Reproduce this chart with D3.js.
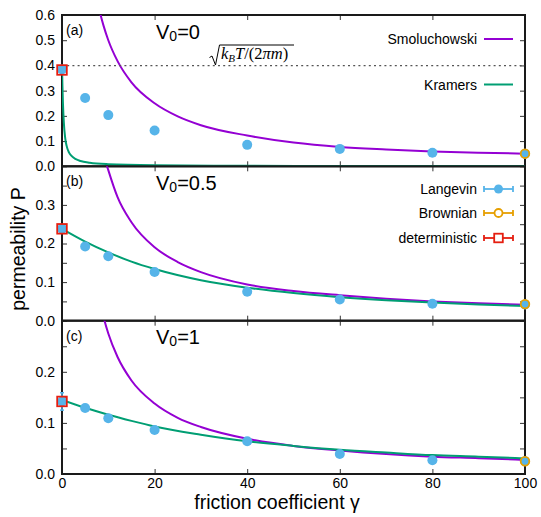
<!DOCTYPE html>
<html>
<head>
<meta charset="utf-8">
<script src="https://cdn.jsdelivr.net/npm/d3@7"></script>
<style>
  html, body { margin: 0; padding: 0; background: #fff; }
  svg { display: block; font-family: "Liberation Sans", Arial, Helvetica, sans-serif; }
</style>
</head>
<body>
<svg id="chart" width="541" height="517"></svg>
<script>
// ---- data ----------------------------------------------------------------
// friction coefficients of the Langevin runs
const langevinGamma = [0, 5, 10, 20, 40, 60, 80, 100];
const langevinA = [0.384, 0.271, 0.203, 0.142, 0.085, 0.069, 0.054, 0.050];
const langevinB = [0.238, 0.192, 0.167, 0.126, 0.075, 0.055, 0.044, 0.042];
const langevinC = [0.142, 0.129, 0.109, 0.086, 0.064, 0.039, 0.027, 0.025];
const langevinErrA = [0.006, 0.004, 0.004, 0.003, 0.003, 0.003, 0.002, 0.002];
const langevinErrB = [0.008, 0.004, 0.004, 0.003, 0.003, 0.003, 0.002, 0.002];
const langevinErrC = [0.017, 0.004, 0.004, 0.003, 0.003, 0.003, 0.002, 0.002];

// overdamped (Brownian) limit
const brownianGamma = [100];
const brownianA = [0.050];
const brownianB = [0.043];
const brownianC = [0.025];

// frictionless (deterministic) limit
const deterministicGamma = [0];
const deterministicA = [0.382];
const deterministicB = [0.238];
const deterministicC = [0.142];

// Smoluchowski theory
const smoluGamma = [7, 8, 9, 10, 12, 15, 20, 25, 30, 40, 50, 60, 70, 80, 90, 100];
const smoluA = [0.714, 0.625, 0.556, 0.500, 0.417, 0.333, 0.250, 0.198, 0.163, 0.122, 0.094, 0.077, 0.067, 0.059, 0.054, 0.050];
const smoluB = [0.557, 0.488, 0.430, 0.390, 0.320, 0.255, 0.190, 0.152, 0.126, 0.094, 0.077, 0.066, 0.057, 0.050, 0.045, 0.041];
const smoluC = [0.393, 0.344, 0.306, 0.275, 0.229, 0.183, 0.138, 0.110, 0.092, 0.069, 0.055, 0.046, 0.039, 0.034, 0.031, 0.0275];

// Kramers theory
const kramersGammaA = [0, 0.1, 0.2, 0.4, 0.7, 1, 1.5, 2, 3, 4, 6, 10, 20, 40, 60, 100];
const kramersA = [0.399, 0.316, 0.253, 0.172, 0.111, 0.081, 0.055, 0.042, 0.028, 0.021, 0.014, 0.0084, 0.0042, 0.0021, 0.0014, 0.0008];
const kramersGamma = [0, 5, 10, 15, 20, 30, 40, 50, 60, 70, 80, 90, 100];
const kramersB = [0.238, 0.205, 0.177, 0.153, 0.134, 0.105, 0.0855, 0.0715, 0.061, 0.053, 0.047, 0.042, 0.038];
const kramersC = [0.145, 0.1295, 0.116, 0.104, 0.093, 0.077, 0.064, 0.055, 0.0475, 0.042, 0.037, 0.034, 0.0305];

// free-particle flux sqrt(kT/(2 pi m))
const thermalLimit = 0.3989;

// ticks and labels
const xTicks = [0, 20, 40, 60, 80, 100];
const yTicksA = [0, 0.1, 0.2, 0.3, 0.4, 0.5, 0.6];
const yLabelsA = [0, 0.1, 0.2, 0.3, 0.4, 0.5, 0.6];
const yTicksB = [0, 0.05, 0.1, 0.15, 0.2, 0.25, 0.3, 0.35];
const yLabelsB = [0, 0.1, 0.2, 0.3];
const yTicksC = [0, 0.05, 0.1, 0.15, 0.2, 0.25];
const yLabelsC = [0, 0.1, 0.2];
const panelTags = ["(a)", "(b)", "(c)"];
const barrierValues = ["0", "0.5", "1"];

// ---- colours -------------------------------------------------------------
const C_SMOLU = "#9400d3";
const C_KRAMERS = "#009e73";
const C_LANGEVIN = "#56b4e9";
const C_BROWNIAN = "#e69f00";
const C_DET = "#e51e10";

// ---- layout --------------------------------------------------------------
const X0 = 62, X1 = 525;
const panels = [
  { top: 15,    bottom: 166.3, ymax: 0.6,
    lang: langevinA, err: langevinErrA, brown: brownianA, det: deterministicA,
    smolu: smoluA, kGamma: kramersGammaA, kramers: kramersA,
    ticks: yTicksA, labels: yLabelsA },
  { top: 166.3, bottom: 320.7, ymax: 0.4,
    lang: langevinB, err: langevinErrB, brown: brownianB, det: deterministicB,
    smolu: smoluB, kGamma: kramersGamma, kramers: kramersB,
    ticks: yTicksB, labels: yLabelsB },
  { top: 320.7, bottom: 474,   ymax: 0.3,
    lang: langevinC, err: langevinErrC, brown: brownianC, det: deterministicC,
    smolu: smoluC, kGamma: kramersGamma, kramers: kramersC,
    ticks: yTicksC, labels: yLabelsC }
];

const svg = d3.select("#chart");
const x = d3.scaleLinear().domain([0, 100]).range([X0, X1]);
const fmt = d3.format(".1f");
const FONT = "'Liberation Sans', Arial, Helvetica, sans-serif";

const defs = svg.append("defs");

panels.forEach((p, i) => {
  const y = d3.scaleLinear().domain([0, p.ymax]).range([p.bottom, p.top]);
  const g = svg.append("g");

  // clip region of the plotting area
  const clipId = "clip" + i;
  defs.append("clipPath").attr("id", clipId)
    .append("rect").attr("x", X0).attr("y", p.top)
    .attr("width", X1 - X0).attr("height", p.bottom - p.top);

  // axes with inward ticks
  const styleAxis = sel => {
    sel.select(".domain").remove();
    sel.selectAll(".tick line").attr("stroke", "#333").attr("stroke-width", 1);
    sel.selectAll("text").attr("fill", "#000").attr("font-family", FONT).attr("font-size", 14);
  };
  g.append("g").attr("transform", `translate(${X0},0)`)
    .call(d3.axisLeft(y).tickValues(p.ticks).tickSize(-5).tickPadding(7)
      .tickFormat(d => p.labels.some(v => Math.abs(v - d) < 1e-9) ? fmt(d) : ""))
    .call(styleAxis);
  g.append("g").attr("transform", `translate(${X1},0)`)
    .call(d3.axisRight(y).tickValues(p.ticks).tickSize(-5).tickFormat(""))
    .call(styleAxis);
  g.append("g").attr("transform", `translate(0,${p.top})`)
    .call(d3.axisTop(x).tickValues(xTicks).tickSize(-5).tickFormat(""))
    .call(styleAxis);
  g.append("g").attr("transform", `translate(0,${p.bottom})`)
    .call(d3.axisBottom(x).tickValues(xTicks).tickSize(-5).tickPadding(4)
      .tickFormat(i === 2 ? d3.format("d") : ""))
    .call(styleAxis);

  // frame
  g.append("rect").attr("x", X0).attr("y", p.top)
    .attr("width", X1 - X0).attr("height", p.bottom - p.top)
    .attr("fill", "none").attr("stroke", "#1a1a1a").attr("stroke-width", 2);

  const plot = g.append("g").attr("clip-path", `url(#${clipId})`);

  const line = d3.line().curve(d3.curveMonotoneX);

  // theory curves
  plot.append("path")
    .attr("d", line(smoluGamma.map((gm, k) => [x(gm), y(p.smolu[k])])))
    .attr("fill", "none").attr("stroke", C_SMOLU).attr("stroke-width", 2);
  plot.append("path")
    .attr("d", line(p.kGamma.map((gm, k) => [x(gm), y(p.kramers[k])])))
    .attr("fill", "none").attr("stroke", C_KRAMERS).attr("stroke-width", 2);

  if (i === 0) {
    plot.append("line")
      .attr("x1", X0).attr("x2", X1)
      .attr("y1", y(thermalLimit)).attr("y2", y(thermalLimit))
      .attr("stroke", "#555").attr("stroke-width", 1.2)
      .attr("stroke-dasharray", "2,3.2");
  }

  // Langevin points with error bars
  const pts = g.append("g");
  langevinGamma.forEach((gm, k) => {
    const cx = x(gm), v = p.lang[k], e = p.err[k];
    pts.append("line").attr("x1", cx).attr("x2", cx)
      .attr("y1", y(v - e)).attr("y2", y(v + e))
      .attr("stroke", C_LANGEVIN).attr("stroke-width", 1.5);
    [v - e, v + e].forEach(w => pts.append("line")
      .attr("x1", cx - 2).attr("x2", cx + 2).attr("y1", y(w)).attr("y2", y(w))
      .attr("stroke", C_LANGEVIN).attr("stroke-width", 1.5));
    pts.append("circle").attr("cx", cx).attr("cy", y(v)).attr("r", 5)
      .attr("fill", C_LANGEVIN);
  });

  // Brownian limit
  brownianGamma.forEach((gm, k) => {
    pts.append("circle").attr("cx", x(gm)).attr("cy", y(p.brown[k])).attr("r", 4.3)
      .attr("fill", "none").attr("stroke", C_BROWNIAN).attr("stroke-width", 1.8);
  });

  // deterministic limit
  deterministicGamma.forEach((gm, k) => {
    pts.append("rect").attr("x", x(gm) - 4.8).attr("y", y(p.det[k]) - 4.8)
      .attr("width", 9.6).attr("height", 9.6)
      .attr("fill", "none").attr("stroke", C_DET).attr("stroke-width", 1.8);
  });

  // panel tag and barrier height
  g.append("text").attr("x", 66).attr("y", p.top + 20)
    .attr("font-size", 14).attr("fill", "#000").text(panelTags[i]);
  const vt = g.append("text").attr("x", 156).attr("y", p.top + 23.5)
    .attr("font-size", 20).attr("fill", "#000");
  vt.append("tspan").text("V");
  vt.append("tspan").attr("font-size", 14).attr("dy", 2).text("0");
  vt.append("tspan").attr("dy", -2).text("=" + barrierValues[i]);
});

// ---- legends -------------------------------------------------------------
const LX0 = 484, LX1 = 513, LTX = 477;
const legText = (t, ly) => svg.append("text").attr("x", LTX).attr("y", ly + 5)
  .attr("text-anchor", "end").attr("font-size", 14).attr("fill", "#000").text(t);

[["Smoluchowski", C_SMOLU, 39], ["Kramers", C_KRAMERS, 84.5]].forEach(([t, c, ly]) => {
  legText(t, ly);
  svg.append("line").attr("x1", LX0).attr("x2", LX1).attr("y1", ly).attr("y2", ly)
    .attr("stroke", c).attr("stroke-width", 2);
});

[["Langevin", C_LANGEVIN, 189], ["Brownian", C_BROWNIAN, 213], ["deterministic", C_DET, 238]]
  .forEach(([t, c, ly], k) => {
    legText(t, ly);
    svg.append("line").attr("x1", LX0).attr("x2", LX1).attr("y1", ly).attr("y2", ly)
      .attr("stroke", c).attr("stroke-width", 1.8);
    [LX0, LX1].forEach(cx => svg.append("line").attr("x1", cx).attr("x2", cx)
      .attr("y1", ly - 3).attr("y2", ly + 3).attr("stroke", c).attr("stroke-width", 1.8));
    const mx = (LX0 + LX1) / 2;
    if (k === 0) {
      svg.append("circle").attr("cx", mx).attr("cy", ly).attr("r", 4.5).attr("fill", c);
    } else if (k === 1) {
      svg.append("circle").attr("cx", mx).attr("cy", ly).attr("r", 4)
        .attr("fill", "#fff").attr("stroke", c).attr("stroke-width", 1.8);
    } else {
      svg.append("rect").attr("x", mx - 4.3).attr("y", ly - 4.3).attr("width", 8.6).attr("height", 8.6)
        .attr("fill", "#fff").attr("stroke", c).attr("stroke-width", 1.8);
    }
  });

// ---- sqrt(k_B T / (2 pi m)) annotation ----------------------------------
svg.append("path")
  .attr("d", "M209.5,57.5 L212,56 L215.5,65 L219.5,45 L294,45")
  .attr("fill", "none").attr("stroke", "#000").attr("stroke-width", 1);
const sq = svg.append("text").attr("x", 221).attr("y", 59)
  .attr("font-family", "'Liberation Serif', 'DejaVu Serif', serif")
  .attr("font-size", 16.5).attr("fill", "#000");
sq.append("tspan").attr("font-style", "italic").text("k");
sq.append("tspan").attr("font-style", "italic").attr("font-size", 11).attr("dy", 3).text("B");
sq.append("tspan").attr("font-style", "italic").attr("dy", -3).text("T");
sq.append("tspan").text("/(2");
sq.append("tspan").attr("font-style", "italic").text("πm");
sq.append("tspan").text(")");

// ---- axis titles ---------------------------------------------------------
svg.append("text").attr("transform", "translate(25,249) rotate(-90)")
  .attr("text-anchor", "middle").attr("font-size", 19.5).attr("fill", "#000")
  .text("permeability P");
svg.append("text").attr("x", 277).attr("y", 509)
  .attr("text-anchor", "middle").attr("font-size", 19.5).attr("fill", "#000")
  .text("friction coefficient γ");
</script>
</body>
</html>
